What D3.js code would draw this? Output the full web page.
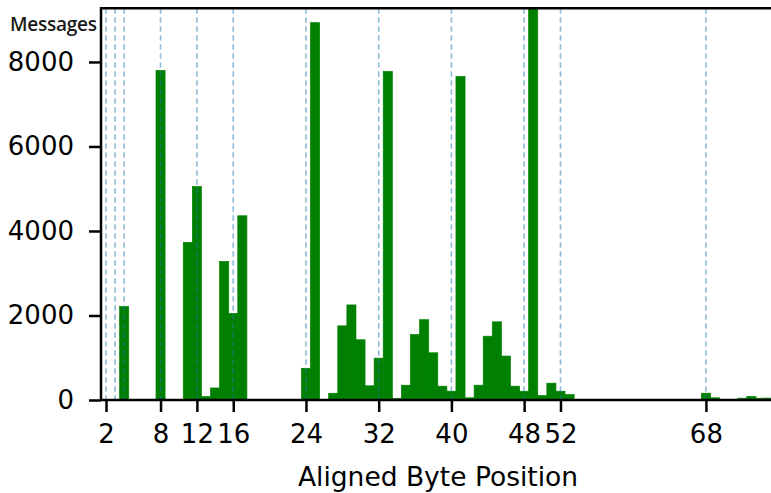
<!DOCTYPE html>
<html>
<head>
<meta charset="utf-8">
<script src="https://cdn.jsdelivr.net/npm/d3@7"></script>
<style>
  html, body { margin: 0; padding: 0; background: #fff; }
  svg { display: block; }
</style>
</head>
<body>
<svg id="chart" width="771" height="493"></svg>
<script>
// Message counts per aligned byte position (bins of width 1)
const positions = [4, 8, 11, 12, 13, 14, 15, 16, 17, 24, 25, 27, 28, 29, 30, 31, 32, 33, 34, 35,
                   36, 37, 38, 39, 40, 41, 42, 43, 44, 45, 46, 47, 48, 49, 50, 51, 52, 53, 68, 69,
                   72, 73, 74, 75];
const counts = [2210, 7800, 3730, 5050, 80, 285, 3280, 2050, 4360, 750, 8930, 160, 1755, 2250, 1425, 336, 990, 7775, 40, 350,
                1550, 1900, 1117, 327, 208, 7655, 52, 350, 1510, 1850, 1040, 327, 208, 9600, 106, 398, 208, 130, 161, 52,
                43, 83, 43, 45];
// Field boundaries marked with dashed guides
const boundaries = [2, 3, 4, 8, 12, 16, 24, 32, 40, 48, 52, 68];
const xTickValues = [2, 8, 12, 16, 24, 32, 40, 48, 52, 68];
const yTickValues = [0, 2000, 4000, 6000, 8000];

const svg = d3.select("#chart");
const plot = { left: 101, right: 775, top: 8.3, bottom: 400 };

const x = d3.scaleLinear().domain([1.45, 75.6]).range([plot.left, plot.right]);
const y = d3.scaleLinear().domain([0, 9270]).range([plot.bottom, plot.top]);

svg.append("defs").append("clipPath").attr("id", "plotClip")
  .append("rect")
  .attr("x", plot.left).attr("y", plot.top)
  .attr("width", plot.right - plot.left).attr("height", plot.bottom - plot.top);

const bins = positions.map((p, i) => ({ pos: p, count: counts[i] }));

// Bars (a thin same-colour outline keeps neighbouring bins seamless)
svg.append("g").attr("clip-path", "url(#plotClip)")
  .selectAll("rect").data(bins).join("rect")
  .attr("x", d => x(d.pos - 0.5))
  .attr("width", d => x(d.pos + 0.5) - x(d.pos - 0.5))
  .attr("y", d => y(d.count))
  .attr("height", d => y(0) - y(d.count))
  .attr("fill", "#008000")
  .attr("stroke", "#008000")
  .attr("stroke-width", 0.7);

// Dashed boundary guides drawn over the bars
svg.append("g").attr("clip-path", "url(#plotClip)")
  .selectAll("line").data(boundaries).join("line")
  .attr("x1", d => x(d)).attr("x2", d => x(d))
  .attr("y1", plot.top).attr("y2", plot.bottom)
  .attr("stroke", "#1f77b4")
  .attr("stroke-opacity", 0.5)
  .attr("stroke-width", 1.6)
  .attr("stroke-dasharray", "5.5,3.5");

// Axes
const xAxis = d3.axisBottom(x).tickValues(xTickValues).tickSize(12).tickPadding(8).tickFormat(d3.format("d"));
const yAxis = d3.axisLeft(y).tickValues(yTickValues).tickSize(12).tickPadding(15).tickFormat(d3.format("d"));

const gx = svg.append("g").attr("transform", `translate(0,${plot.bottom})`).call(xAxis);
const gy = svg.append("g").attr("transform", `translate(${plot.left},0)`).call(yAxis);

[gx, gy].forEach(g => {
  g.select(".domain").remove();
  g.selectAll(".tick line").attr("stroke", "#000").attr("stroke-width", 2.5);
  g.selectAll(".tick text")
    .attr("fill", "#000")
    .style("font-family", "'DejaVu Sans', sans-serif")
    .style("font-size", "26px");
});
gx.selectAll(".tick text").attr("dy", "0.9em");

// Spines: left, top, bottom
const spine = svg.append("g").attr("stroke", "#000").attr("stroke-width", 2.5).attr("fill", "none");
spine.append("path").attr("d", `M${plot.left},${plot.bottom}V${plot.top}H${plot.right}`);
spine.append("line").attr("x1", plot.left).attr("x2", plot.right).attr("y1", plot.bottom).attr("y2", plot.bottom);

// Axis titles
svg.append("text")
  .attr("x", 10).attr("y", 30.5)
  .style("font-family", "'Open Sans', sans-serif")
  .style("font-size", "19px")
  .style("font-weight", 600)
  .attr("fill", "#1a1a1a")
  .attr("textLength", 87)
  .text("Messages");

svg.append("text")
  .attr("x", (plot.left + plot.right) / 2).attr("y", 486)
  .attr("text-anchor", "middle")
  .style("font-family", "'DejaVu Sans', sans-serif")
  .style("font-size", "26.5px")
  .attr("fill", "#000")
  .text("Aligned Byte Position");
</script>
</body>
</html>
